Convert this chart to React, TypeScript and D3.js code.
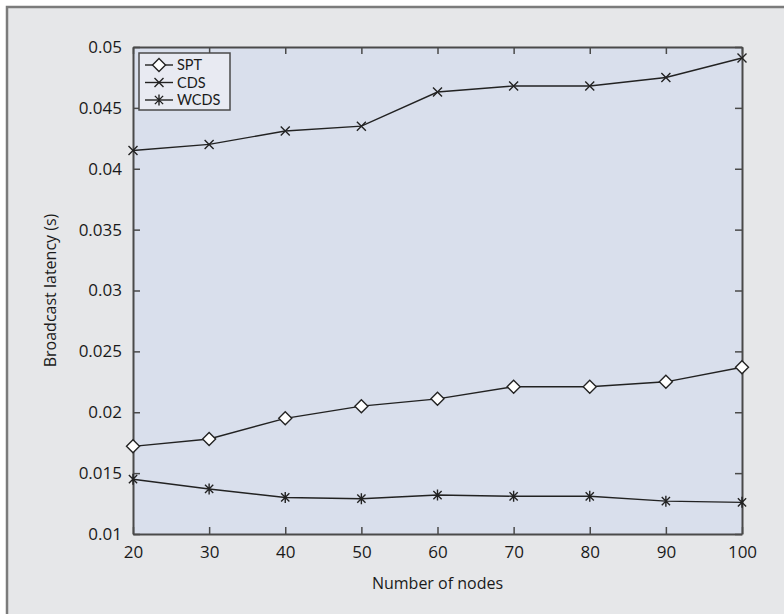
import React, { useRef, useEffect } from "react";
import * as d3 from "d3";

const nodes = [20, 30, 40, 50, 60, 70, 80, 90, 100];
const sptLatency = [0.0172, 0.0178, 0.0195, 0.0205, 0.0211, 0.0221, 0.0221, 0.0225, 0.0237];
const cdsLatency = [0.0415, 0.042, 0.0431, 0.0435, 0.0463, 0.0468, 0.0468, 0.0475, 0.0491];
const wcdsLatency = [0.0145, 0.0137, 0.013, 0.0129, 0.0132, 0.0131, 0.0131, 0.0127, 0.0126];
const seriesNames = ["SPT", "CDS", "WCDS"];
const yTicks = [0.01, 0.015, 0.02, 0.025, 0.03, 0.035, 0.04, 0.045, 0.05];

const FONT = "'Open Sans', 'DejaVu Sans', sans-serif";
const LEGEND_FONT = "Lato, 'Open Sans', sans-serif";

const App: React.FC = () => {
    const svgRef = useRef<SVGSVGElement>(null);

    useEffect(() => {
        const svgEl = svgRef.current;
        if (!svgEl) return;
        const width = 784;
        const height = 614;
        const margin = { top: 47, right: 42, bottom: 80, left: 133 };

        d3.select(svgEl).selectAll("*").remove();
        const svg = d3.select(svgEl).attr("width", width).attr("height", height);

        // frame background
        svg.append("rect").attr("width", width).attr("height", height).attr("fill", "#ffffff");
        svg.append("rect").attr("x", 7).attr("y", 7).attr("width", width).attr("height", height).attr("fill", "#e6e7e9");
        svg.append("path").attr("d", `M7,${height} V7 H${width}`).attr("fill", "none").attr("stroke", "#7b7b7b").attr("stroke-width", 2.5);

        const x = d3.scaleLinear().domain([20, 100]).range([margin.left, width - margin.right]);
        const y = d3.scaleLinear().domain([0.01, 0.05]).range([height - margin.bottom, margin.top]);
        const [x0, x1] = x.range();
        const [y0, y1] = y.range();

        svg.append("rect").attr("x", x0).attr("y", y1).attr("width", x1 - x0).attr("height", y0 - y1).attr("fill", "#d9dfec");

        const axisColor = "#4a4a4a";
        const tl = 7;
        const axes = svg.append("g");
        // inward ticks on all four sides
        axes.append("g").attr("transform", `translate(0,${y0})`)
            .call(d3.axisBottom(x).tickValues(nodes).tickSizeInner(-tl).tickSizeOuter(0).tickPadding(12).tickFormat(d3.format("d")));
        axes.append("g").attr("transform", `translate(0,${y1})`)
            .call(d3.axisTop(x).tickValues(nodes).tickSizeInner(-tl).tickSizeOuter(0).tickFormat(() => ""));
        axes.append("g").attr("transform", `translate(${x0},0)`)
            .call(d3.axisLeft(y).tickValues(yTicks).tickSizeInner(-tl).tickSizeOuter(0).tickPadding(11).tickFormat((d) => String(+d)));
        axes.append("g").attr("transform", `translate(${x1},0)`)
            .call(d3.axisRight(y).tickValues(yTicks).tickSizeInner(-tl).tickSizeOuter(0).tickFormat(() => ""));
        axes.selectAll("path.domain").attr("stroke", axisColor).attr("stroke-width", 2);
        axes.selectAll(".tick line").attr("stroke", axisColor).attr("stroke-width", 1.5);
        axes.selectAll(".tick text").attr("font-family", FONT).attr("font-size", 17).attr("fill", "#1a1a1a");

        const lineGen = d3.line<number>().x((_, i) => x(nodes[i])).y((d) => y(d));
        const data = [sptLatency, cdsLatency, wcdsLatency];
        const stroke = "#222";

        const drawMarker = (g: d3.Selection<SVGGElement, unknown, null, undefined>, kind: number) => {
            if (kind === 0) {
                const r = 6.5;
                g.append("path").attr("d", `M0,${-r} L${r},0 L0,${r} L${-r},0 Z`)
                    .attr("fill", "#ffffff").attr("stroke", stroke).attr("stroke-width", 1.4);
            } else if (kind === 1) {
                const r = 4.5;
                g.append("path").attr("d", `M${-r},${-r} L${r},${r} M${-r},${r} L${r},${-r}`)
                    .attr("stroke", stroke).attr("stroke-width", 1.4);
            } else {
                const r = 5.5;
                const d = r * 0.75;
                g.append("path").attr("d", `M0,${-r} V${r} M${-d},${-d} L${d},${d} M${-d},${d} L${d},${-d}`)
                    .attr("stroke", stroke).attr("stroke-width", 1.4);
            }
        };

        data.forEach((vals, k) => {
            svg.append("path").datum(vals).attr("d", lineGen).attr("fill", "none")
                .attr("stroke", stroke).attr("stroke-width", 1.4);
            vals.forEach((v, i) => {
                const g = svg.append("g").attr("transform", `translate(${x(nodes[i])},${y(v)})`);
                drawMarker(g, k);
            });
        });

        // legend
        const rowGap = 17.5;
        const lg = svg.append("g").attr("transform", `translate(139,53)`);
        lg.append("rect").attr("width", 91).attr("height", 57).attr("fill", "#e8eaf2")
            .attr("stroke", axisColor).attr("stroke-width", 1.5);
        seriesNames.forEach((name, k) => {
            const cy = 12 + k * rowGap;
            lg.append("line").attr("x1", 6).attr("x2", 34).attr("y1", cy).attr("y2", cy)
                .attr("stroke", stroke).attr("stroke-width", 1.4);
            drawMarker(lg.append("g").attr("transform", `translate(20,${cy})`), k);
            lg.append("text").attr("x", 38).attr("y", cy).attr("dy", "0.36em")
                .attr("font-family", LEGEND_FONT).attr("font-size", 14.5).attr("fill", "#1a1a1a").text(name);
        });

        svg.append("text").attr("x", (x0 + x1) / 2).attr("y", 589).attr("text-anchor", "middle")
            .attr("font-family", FONT).attr("font-size", 16).attr("fill", "#1a1a1a").text("Number of nodes");
        svg.append("text").attr("transform", `translate(56,${(y0 + y1) / 2}) rotate(-90)`)
            .attr("text-anchor", "middle").attr("font-family", FONT).attr("font-size", 16)
            .attr("fill", "#1a1a1a").text("Broadcast latency (s)");
    }, []);

    return <svg ref={svgRef} style={{ display: "block", position: "absolute", left: 0, top: 0 }}></svg>;
};

export default App;
